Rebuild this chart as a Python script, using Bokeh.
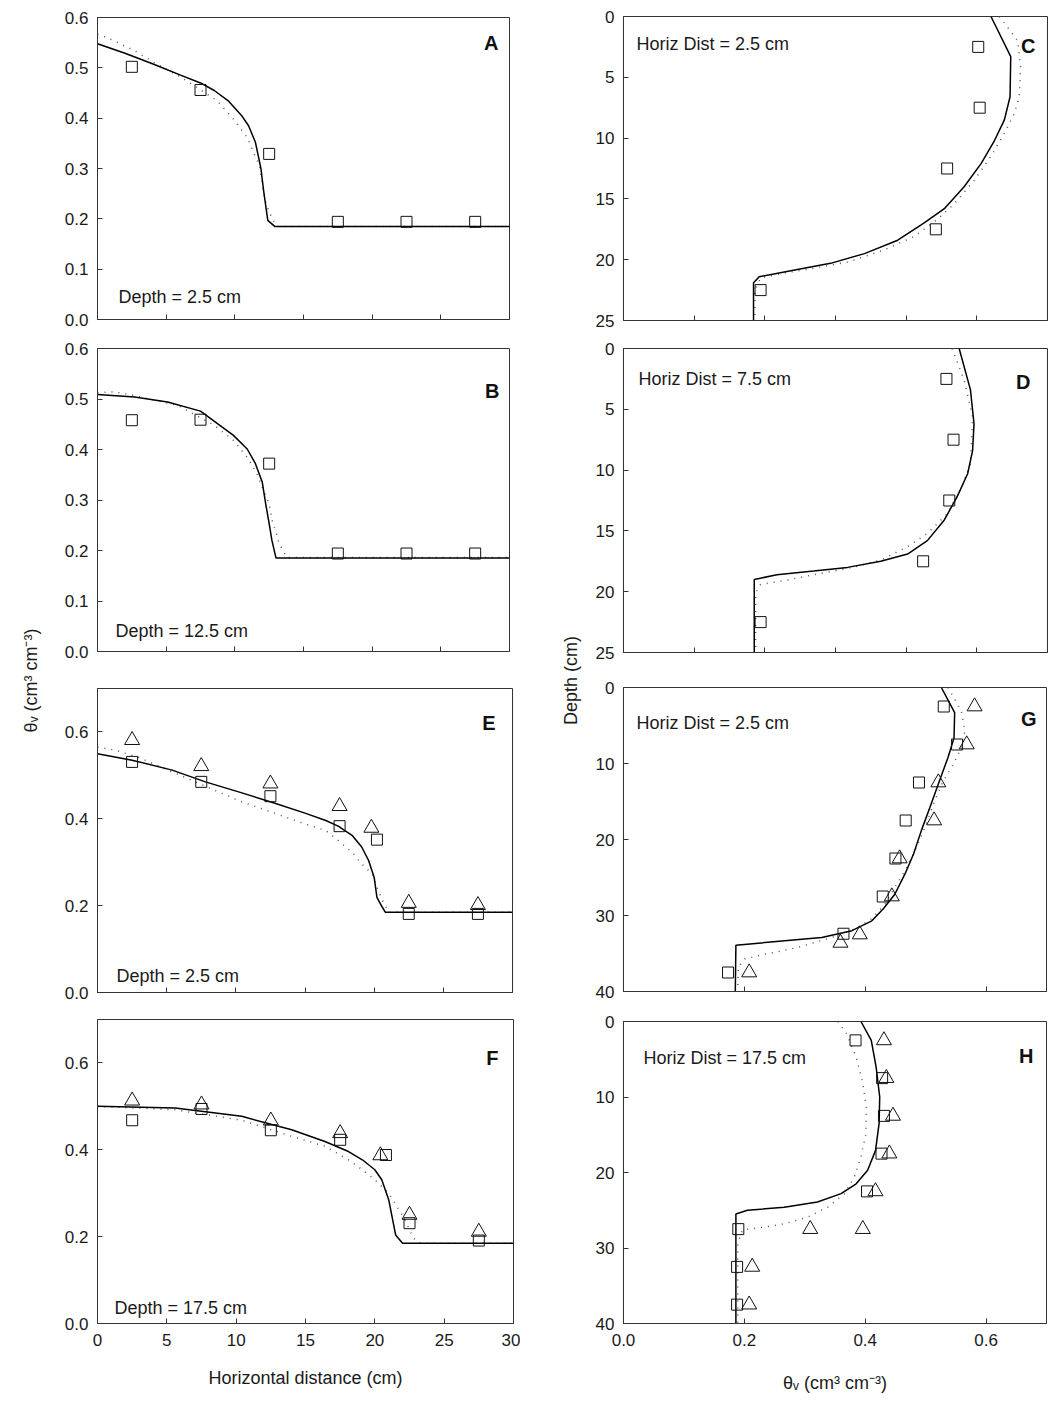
from bokeh.plotting import figure
from bokeh.models import Range1d, FixedTicker, NumeralTickFormatter, Label
from bokeh.layouts import row, column
from bokeh.embed import file_html
from bokeh.resources import INLINE

FONT = "Liberation Sans"

# ---------------- data ----------------
obs_x = [2.5, 7.5, 12.5, 17.5, 22.5, 27.5]
obs_d5 = [2.5, 7.5, 12.5, 17.5, 22.5]
obs_d8 = [2.5, 7.5, 12.5, 17.5, 22.5, 27.5, 32.5, 37.5]

# Panel A (Depth = 2.5 cm)
a_sq = [0.502, 0.456, 0.329, 0.194, 0.194, 0.194]
a_sol_x = [0, 2, 4, 6, 7.5, 8.5, 9.5, 10.5, 11, 11.5, 11.9, 12.1, 12.4, 12.9, 30]
a_sol_y = [0.548, 0.529, 0.508, 0.486, 0.470, 0.455, 0.435, 0.405, 0.385, 0.352, 0.300, 0.255, 0.197, 0.185, 0.185]
a_dot_x = [0, 0.7, 2.7, 4.1, 6.1, 8.7, 9.9, 10.9, 11.4, 11.8, 12.0, 12.2, 12.5, 12.8, 13.1, 30]
a_dot_y = [0.567, 0.560, 0.534, 0.511, 0.481, 0.435, 0.398, 0.362, 0.329, 0.306, 0.270, 0.237, 0.213, 0.197, 0.185, 0.185]

# Panel B (Depth = 12.5 cm)
b_sq = [0.458, 0.459, 0.372, 0.194, 0.194, 0.194]
b_sol_x = [0, 2.7, 5.1, 7.5, 9.9, 10.9, 11.5, 12.0, 12.25, 12.5, 12.7, 13.0, 30]
b_sol_y = [0.509, 0.504, 0.494, 0.476, 0.428, 0.401, 0.372, 0.335, 0.292, 0.253, 0.220, 0.185, 0.185]
b_dot_x = [0, 1.2, 2.7, 4.4, 5.8, 8.5, 9.9, 11.0, 11.6, 12.0, 12.5, 12.75, 13.0, 13.2, 13.5, 13.8, 30]
b_dot_y = [0.513, 0.514, 0.507, 0.496, 0.488, 0.448, 0.418, 0.381, 0.352, 0.325, 0.292, 0.256, 0.236, 0.216, 0.200, 0.186, 0.186]

# Panel C (Horiz Dist = 2.5 cm)
c_sq = [0.502, 0.504, 0.458, 0.442, 0.194]
c_sol_x = [0.520, 0.548, 0.547, 0.539, 0.525, 0.506, 0.482, 0.454, 0.425, 0.388, 0.341, 0.293, 0.246, 0.192, 0.184, 0.184]
c_sol_d = [0, 3.3, 6.6, 8.5, 10.2, 12.1, 14.0, 15.8, 17.0, 18.4, 19.5, 20.3, 20.8, 21.4, 21.9, 25]
c_dot_x = [0.532, 0.558, 0.562, 0.560, 0.553, 0.539, 0.520, 0.496, 0.468, 0.444, 0.411, 0.369, 0.317, 0.270, 0.227, 0.194, 0.186, 0.186]
c_dot_d = [0, 2.0, 4.2, 6.6, 8.0, 9.6, 11.5, 13.5, 15.4, 16.7, 18.1, 19.2, 20.2, 20.7, 21.1, 21.5, 22.5, 25]

# Panel D (Horiz Dist = 7.5 cm)
d_sq = [0.457, 0.467, 0.461, 0.424, 0.194]
d_sol_x = [0.475, 0.491, 0.496, 0.494, 0.487, 0.472, 0.454, 0.430, 0.402, 0.364, 0.317, 0.269, 0.217, 0.185, 0.185]
d_sol_d = [0, 3.4, 6.2, 8.4, 10.3, 12.2, 14.1, 15.8, 16.9, 17.5, 18.0, 18.3, 18.6, 19.0, 25]
d_dot_x = [0.465, 0.482, 0.494, 0.491, 0.477, 0.458, 0.430, 0.402, 0.364, 0.317, 0.269, 0.227, 0.194, 0.187, 0.187]
d_dot_d = [0, 2.6, 5.6, 9.5, 11.6, 13.6, 15.2, 16.3, 17.4, 18.1, 18.6, 19.1, 19.4, 20.1, 25]

# Panel E (Depth = 2.5 cm)
e_sq_x = [2.5, 7.5, 12.5, 17.5, 20.2, 22.5, 27.5]
e_sq = [0.531, 0.485, 0.452, 0.383, 0.352, 0.181, 0.181]
e_tr_x = [2.5, 7.5, 12.5, 17.5, 19.8, 22.5, 27.5]
e_tr = [0.581, 0.521, 0.481, 0.429, 0.379, 0.206, 0.201]
e_sol_x = [0, 2.5, 5.4, 7.8, 10.2, 12.6, 15.0, 16.5, 17.4, 18.4, 19.1, 19.6, 20.0, 20.2, 20.45, 20.8, 30]
e_sol_y = [0.550, 0.535, 0.512, 0.485, 0.462, 0.438, 0.413, 0.396, 0.383, 0.362, 0.335, 0.304, 0.265, 0.219, 0.204, 0.185, 0.185]
e_dot_x = [0, 1.3, 3.0, 5.4, 7.8, 10.2, 12.6, 15.0, 16.5, 17.4, 18.4, 19.1, 19.85, 20.2, 20.6, 21.05, 30]
e_dot_y = [0.565, 0.558, 0.541, 0.508, 0.475, 0.442, 0.415, 0.388, 0.373, 0.350, 0.323, 0.296, 0.273, 0.242, 0.212, 0.185, 0.185]

# Panel F (Depth = 17.5 cm)
f_sq_x = [2.5, 7.5, 12.5, 17.5, 20.8, 22.5, 27.5]
f_sq = [0.468, 0.494, 0.445, 0.423, 0.388, 0.231, 0.191]
f_tr_x = [2.5, 7.5, 12.5, 17.5, 20.4, 22.5, 27.5]
f_tr = [0.513, 0.504, 0.467, 0.438, 0.387, 0.250, 0.211]
f_sol_x = [0, 5.6, 10.4, 14.0, 16.4, 18.1, 19.1, 20.0, 20.5, 21.0, 21.5, 22.0, 30]
f_sol_y = [0.500, 0.496, 0.477, 0.446, 0.419, 0.396, 0.377, 0.354, 0.331, 0.285, 0.204, 0.185, 0.185]
f_dot_x = [0, 5.6, 10.4, 14.0, 16.4, 18.1, 19.1, 20.0, 21.0, 21.6, 22.2, 22.5, 22.8, 23.3, 30]
f_dot_y = [0.500, 0.492, 0.468, 0.431, 0.408, 0.377, 0.354, 0.331, 0.300, 0.269, 0.238, 0.215, 0.196, 0.185, 0.185]

# Panel G (Horiz Dist = 2.5 cm)
g_sq_d = [2.5, 7.5, 12.5, 17.5, 22.5, 27.5, 32.4, 37.5]
g_sq = [0.530, 0.552, 0.489, 0.467, 0.450, 0.429, 0.364, 0.173]
g_tr_d = [2.5, 7.5, 12.5, 17.5, 22.5, 27.5, 32.5, 33.6, 37.5]
g_tr = [0.581, 0.568, 0.521, 0.514, 0.457, 0.444, 0.391, 0.359, 0.208]
g_sol_x = [0.526, 0.548, 0.547, 0.537, 0.521, 0.507, 0.493, 0.480, 0.466, 0.449, 0.430, 0.411, 0.378, 0.328, 0.186, 0.185]
g_sol_d = [0, 3.3, 6.6, 9.2, 12.7, 15.8, 18.8, 21.9, 24.5, 27.2, 29.1, 30.7, 32.0, 32.9, 33.9, 40]
g_dot_x = [0.537, 0.559, 0.565, 0.559, 0.546, 0.529, 0.515, 0.499, 0.482, 0.466, 0.449, 0.433, 0.411, 0.383, 0.344, 0.289, 0.234, 0.201, 0.190, 0.189]
g_dot_d = [0, 3.1, 5.7, 7.9, 10.1, 12.3, 14.9, 18.4, 21.5, 24.1, 26.3, 28.5, 30.4, 31.8, 32.9, 34.2, 35.1, 35.7, 36.8, 40]

# Panel H (Horiz Dist = 17.5 cm)
h_sq = [0.384, 0.428, 0.431, 0.427, 0.403, 0.190, 0.188, 0.188]
h_tr_d = [2.5, 7.5, 12.5, 17.5, 22.5, 27.5, 27.5, 32.5, 37.5]
h_tr = [0.431, 0.435, 0.446, 0.440, 0.417, 0.309, 0.396, 0.213, 0.208]
h_sol_x = [0.393, 0.410, 0.418, 0.424, 0.423, 0.417, 0.404, 0.385, 0.360, 0.321, 0.266, 0.205, 0.186, 0.186]
h_sol_d = [0, 2.5, 6.0, 10.0, 13.5, 17.1, 19.7, 21.5, 22.8, 23.9, 24.6, 25.0, 25.5, 40]
h_dot_x = [0.355, 0.369, 0.385, 0.396, 0.402, 0.401, 0.393, 0.382, 0.366, 0.338, 0.305, 0.266, 0.228, 0.197, 0.189, 0.189]
h_dot_d = [0, 1.6, 4.7, 8.2, 11.3, 14.9, 17.9, 20.6, 22.8, 24.6, 25.9, 26.8, 27.3, 27.6, 29.4, 40]

# ticks
dist_ticks = [0, 5, 10, 15, 20, 25, 30]
theta_ticks_fine = [0.0, 0.1, 0.2, 0.3, 0.4, 0.5, 0.6]
theta_ticks_coarse = [0.0, 0.2, 0.4, 0.6]
depth25_ticks = [0, 5, 10, 15, 20, 25]
depth40_ticks = [0, 10, 20, 30, 40]

# texts
x_title = "Horizontal distance (cm)"
theta_title = "θᵥ (cm³ cm⁻³)"
depth_title = "Depth (cm)"

AX = "#333333"
TXT = "#1a1a1a"


def style_axis(ax, ticks, show_labels, fmt=None):
    ax.axis_line_color = AX
    ax.axis_line_width = 1
    if show_labels:
        ax.ticker = FixedTicker(ticks=ticks)
        ax.major_tick_in = 5
        ax.major_tick_out = 0
        ax.major_tick_line_color = AX
        ax.minor_tick_line_color = None
        ax.major_label_text_font = FONT
        ax.major_label_text_font_size = "17px"
        ax.major_label_text_color = TXT
        ax.major_label_standoff = 9
        if fmt:
            ax.formatter = NumeralTickFormatter(format=fmt)
    else:
        ax.ticker = FixedTicker(ticks=[], minor_ticks=ticks)
        ax.major_tick_line_color = None
        ax.major_tick_in = 0
        ax.major_tick_out = 0
        ax.minor_tick_in = 5
        ax.minor_tick_out = 0
        ax.minor_tick_line_color = AX


def panel(xr, yr, fw, fh, bl, br, bt, bb, xt, xlab, xfmt, yt, yfmt):
    p = figure(frame_width=fw, frame_height=fh,
               min_border_left=bl, min_border_right=br,
               min_border_top=bt, min_border_bottom=bb,
               x_range=Range1d(*xr), y_range=Range1d(*yr),
               output_backend="svg", toolbar_location=None, tools="")
    p.grid.visible = False
    p.outline_line_color = AX
    p.outline_line_width = 1
    p.background_fill_color = "white"
    p.border_fill_color = "white"
    style_axis(p.xaxis[0], xt, xlab, xfmt)
    style_axis(p.yaxis[0], yt, True, yfmt)
    return p


def add_series(p, sol_x, sol_y, dot_x, dot_y):
    p.line(dot_x, dot_y, line_color="#555555", line_width=1.5, line_dash="1 6")
    p.line(sol_x, sol_y, line_color="black", line_width=1.5)


def add_sq(p, x, y):
    p.scatter(x, y, marker="square", size=11, fill_color=None, line_color="#111111", line_width=1)


def add_tr(p, x, y):
    p.scatter(x, y, marker="triangle", size=15, fill_color=None, line_color="#111111", line_width=1)


def letter(p, x, y, dx, dy, txt):
    p.add_layout(Label(x=x, y=y, x_offset=dx, y_offset=dy, text=txt, text_font=FONT,
                       text_font_size="20px", text_font_style="bold", text_color="#111111",
                       text_align="right", text_baseline="alphabetic"))


def note(p, x, y, dx, dy, txt):
    p.add_layout(Label(x=x, y=y, x_offset=dx, y_offset=dy, text=txt, text_font=FONT,
                       text_font_size="18px", text_color=TXT,
                       text_align="left", text_baseline="alphabetic"))


def bottom_title(p, text, standoff):
    ax = p.xaxis[0]
    ax.major_label_standoff = 10
    ax.axis_label = text
    ax.axis_label_text_font = FONT
    ax.axis_label_text_font_size = "18px"
    ax.axis_label_text_font_style = "normal"
    ax.axis_label_text_color = TXT
    ax.axis_label_standoff = standoff


# ---- left column ----
pA = panel((0, 30), (0, 0.6), 412, 302, 47, 11, 17, 15, dist_ticks, False, None, theta_ticks_fine, "0.0")
add_series(pA, a_sol_x, a_sol_y, a_dot_x, a_dot_y)
add_sq(pA, obs_x, a_sq)
letter(pA, 30, 0.6, -11, -25, "A")
note(pA, 0, 0, 21, 23, "Depth = 2.5 cm")

pB = panel((0, 30), (0, 0.6), 412, 303, 47, 11, 14, 17, dist_ticks, False, None, theta_ticks_fine, "0.0")
add_series(pB, b_sol_x, b_sol_y, b_dot_x, b_dot_y)
add_sq(pB, obs_x, b_sq)
letter(pB, 30, 0.6, -10, -42, "B")
note(pB, 0, 0, 18, 21, "Depth = 12.5 cm")

pE = panel((0, 30), (0, 0.7), 415, 304, 42, 13, 20, 14, dist_ticks, False, None, theta_ticks_coarse, "0.0")
add_series(pE, e_sol_x, e_sol_y, e_dot_x, e_dot_y)
add_tr(pE, e_tr_x, e_tr)
add_sq(pE, e_sq_x, e_sq)
letter(pE, 30, 0.7, -17, -34, "E")
note(pE, 0, 0, 19, 17, "Depth = 2.5 cm")

pF = panel((0, 30), (0, 0.7), 416, 304, 39, 15, 13, 76, dist_ticks, True, None, theta_ticks_coarse, "0.0")
add_series(pF, f_sol_x, f_sol_y, f_dot_x, f_dot_y)
add_tr(pF, f_tr_x, f_tr)
add_sq(pF, f_sq_x, f_sq)
letter(pF, 30, 0.7, -15, -38, "F")
note(pF, 0, 0, 17, 16, "Depth = 17.5 cm")
bottom_title(pF, x_title, 19)

# ---- right column ----
pC = panel((0, 0.6), (25, 0), 424, 304, 41, 4, 16, 14, theta_ticks_fine, False, None, depth25_ticks, None)
add_series(pC, c_sol_x, c_sol_d, c_dot_x, c_dot_d)
add_sq(pC, c_sq, obs_d5)
letter(pC, 0.6, 0, -12, -29, "C")
note(pC, 0, 0, 13, -27, "Horiz Dist = 2.5 cm")

pD = panel((0, 0.6), (25, 0), 424, 304, 41, 4, 14, 16, theta_ticks_fine, False, None, depth25_ticks, None)
add_series(pD, d_sol_x, d_sol_d, d_dot_x, d_dot_d)
add_sq(pD, d_sq, obs_d5)
letter(pD, 0.6, 0, -17, -33, "D")
note(pD, 0, 0, 15, -30, "Horiz Dist = 7.5 cm")

pG = panel((0, 0.7), (40, 0), 423, 304, 40, 6, 19, 15, theta_ticks_coarse, False, None, depth40_ticks, None)
add_series(pG, g_sol_x, g_sol_d, g_dot_x, g_dot_d)
add_tr(pG, g_tr, g_tr_d)
add_sq(pG, g_sq, g_sq_d)
letter(pG, 0.7, 0, -10, -31, "G")
note(pG, 0, 0, 13, -35, "Horiz Dist = 2.5 cm")

pH = panel((0, 0.7), (40, 0), 423, 302, 37, 9, 15, 76, theta_ticks_coarse, True, "0.0", depth40_ticks, None)
add_series(pH, h_sol_x, h_sol_d, h_dot_x, h_dot_d)
add_tr(pH, h_tr, h_tr_d)
add_sq(pH, h_sq, obs_d8)
letter(pH, 0.7, 0, -13, -34, "H")
note(pH, 0, 0, 20, -36, "Horiz Dist = 17.5 cm")
bottom_title(pH, theta_title, 24)


# ---- shared axis titles ----
def title_strip(width, border_left, standoff, text):
    p = figure(width=width, height=1399, min_border_left=border_left, min_border_right=0,
               min_border_top=18, min_border_bottom=57,
               x_range=Range1d(0, 1), y_range=Range1d(0, 1),
               x_axis_location=None, y_axis_location="left",
               output_backend="svg", toolbar_location=None, tools="")
    p.grid.visible = False
    p.outline_line_color = None
    p.background_fill_color = "white"
    p.border_fill_color = "white"
    ax = p.yaxis[0]
    ax.ticker = FixedTicker(ticks=[])
    ax.axis_line_color = None
    ax.major_tick_line_color = None
    ax.minor_tick_line_color = None
    ax.major_tick_in = 0
    ax.major_tick_out = 0
    ax.minor_tick_in = 0
    ax.minor_tick_out = 0
    ax.axis_label = text
    ax.axis_label_text_font = FONT
    ax.axis_label_text_font_size = "18px"
    ax.axis_label_text_font_style = "normal"
    ax.axis_label_text_color = TXT
    ax.axis_label_standoff = standoff
    return p


labL = title_strip(50, 48, 8, theta_title)
labM = title_strip(62, 60, 0, depth_title)

layout = row(labL, column(pA, pB, pE, pF), labM, column(pC, pD, pG, pH))

open("out.html", "w").write(file_html(layout, INLINE))
